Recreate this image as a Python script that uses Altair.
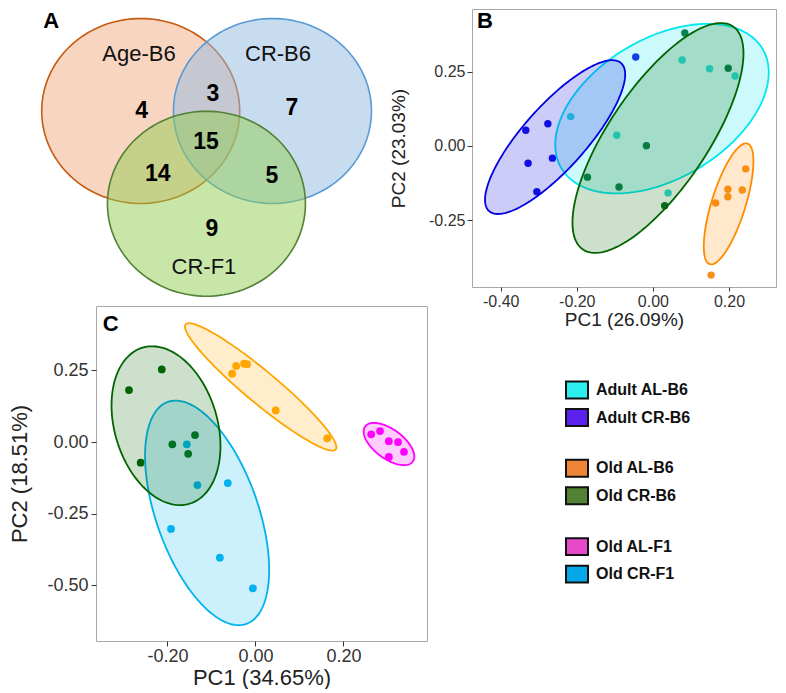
import altair as alt
import numpy as np
import pandas as pd

FONT = "Liberation Sans"
LBL = "replace(format(datum.value, '.2f'), '\u2212', '-')"

# ---------------- Panel A : Venn diagram ----------------
venn_sets = ["Age-B6", "CR-B6", "CR-F1"]
venn_cx = [0.0, 1.331, 0.664]
venn_cy = [0.0, 0.0, -0.937]
venn_rx = [1.0, 1.0, 1.0]
venn_ry = [0.934, 0.934, 0.934]
venn_fill = ["#F1AB81", "#91B9E1", "#91CD51"]
venn_stroke = ["#C55A11", "#5B9BD5", "#538135"]
venn_label_x = [-0.017, 1.387, 0.639]
venn_label_y = [0.576, 0.576, -1.576]
venn_counts = ["4", "3", "7", "15", "14", "5", "9"]
venn_count_x = [0.01, 0.730, 1.528, 0.660, 0.172, 1.326, 0.720]
venn_count_y = [0.0, 0.175, 0.033, -0.313, -0.636, -0.657, -1.192]

# ---------------- Panel B : PCA (B6) ----------------
b_groups = ["Adult AL-B6", "Adult CR-B6", "Old AL-B6", "Old CR-B6"]
b_pc1 = [
    [-0.216, -0.095, 0.077, 0.149, 0.216, 0.040],
    [-0.334, -0.276, -0.328, -0.264, -0.305, -0.045],
    [0.244, 0.197, 0.197, 0.235, 0.165, 0.153],
    [0.084, 0.198, -0.017, -0.172, -0.089, 0.031],
]
b_pc2 = [
    [0.099, 0.036, 0.290, 0.260, 0.236, -0.158],
    [0.053, 0.075, -0.058, -0.041, -0.154, 0.300],
    [-0.077, -0.146, -0.171, -0.148, -0.192, -0.435],
    [0.381, 0.262, 0.001, -0.105, -0.138, -0.201],
]
b_point_colors = ["#33DCD4", "#1414E6", "#F7901A", "#0B6B2B"]
b_line_colors = ["#00E8EE", "#0000E0", "#FF8C00", "#006400"]
# confidence ellipses: centre, major half-axis vector, minor half-axis vector
b_ell_cx = [0.024, -0.257, 0.199, 0.0134]
b_ell_cy = [0.126, 0.030, -0.195, 0.027]
b_ell_ux = [0.2644, 0.1735, 0.0494, 0.1971]
b_ell_uy = [0.2011, 0.2493, 0.2032, 0.376]
b_ell_vx = [0.0938, 0.0618, 0.0426, 0.108]
b_ell_vy = [-0.2028, -0.0707, -0.0168, -0.093]

# ---------------- Panel C : PCA (old B6 / F1) ----------------
c_groups = ["Old AL-B6", "Old CR-B6", "Old AL-F1", "Old CR-F1"]
c_pc1 = [
    [-0.053, -0.044, -0.026, -0.019, 0.046, 0.163],
    [-0.2875, -0.213, -0.261, -0.189, -0.1375, -0.153],
    [0.263, 0.283, 0.303, 0.324, 0.3375, 0.303],
    [-0.156, -0.132, -0.063, -0.192, -0.081, -0.006],
]
c_pc2 = [
    [0.238, 0.265, 0.273, 0.271, 0.110, 0.013],
    [0.181, 0.253, -0.072, -0.008, 0.024, -0.041],
    [0.027, 0.038, 0.003, 0.000, -0.034, -0.052],
    [-0.008, -0.150, -0.143, -0.303, -0.403, -0.510],
]
c_colors = ["#FFA500", "#006400", "#FF00FF", "#00B2EE"]
c_ell_cx = [0.0118, -0.2034, 0.3034, -0.110]
c_ell_cy = [0.192, 0.0568, -0.007, -0.247]
c_ell_ux = [0.1705, 0.0536, 0.0541, 0.0891]
c_ell_uy = [-0.2178, -0.2718, -0.0613, -0.3868]
c_ell_vx = [0.0232, 0.1116, 0.0198, 0.1093]
c_ell_vy = [0.0429, 0.0519, 0.0408, 0.0592]
# ggplot order of drawing ellipses
c_draw_order = [3, 1, 0, 2]

# ---------------- Legend ----------------
legend_labels = ["Adult AL-B6", "Adult CR-B6", "Old AL-B6", "Old CR-B6", "Old AL-F1", "Old CR-F1"]
legend_colors = ["#2CF0EE", "#5A20F0", "#EF8536", "#548235", "#E64AC8", "#04A8E8"]
legend_block = [0, 0, 1, 1, 2, 2]
legend_row = [0, 1, 0, 1, 0, 1]


def ellipse_frame(cx, cy, ux, uy, vx, vy, n=144):
    t = np.linspace(0.0, 2.0 * np.pi, n + 1)
    return pd.DataFrame({
        "i": np.arange(n + 1),
        "x": cx + ux * np.cos(t) + vx * np.sin(t),
        "y": cy + uy * np.cos(t) + vy * np.sin(t),
    })


def axis(values, title, lsize, tsize, tpad, lpad, ticksize):
    return alt.Axis(values=values, labelExpr=LBL, title=title, grid=False, domain=False,
                    ticks=True, tickSize=ticksize, tickColor="#333333", tickWidth=1,
                    labelFont=FONT, labelFontSize=lsize, labelColor="#333333",
                    labelPadding=lpad, titleFont=FONT, titleFontSize=tsize,
                    titleFontWeight="normal", titleColor="#222222", titlePadding=tpad)


# ======== Panel A ========
A_W, A_H = 331, 278
axA = alt.X("x:Q", scale=alt.Scale(domain=[-0.4515, 2.892], nice=False, zero=False), axis=None)
ayA = alt.Y("y:Q", scale=alt.Scale(domain=[-1.778, 1.030], nice=False, zero=False), axis=None)
a_layers = []
for k in range(3):
    df = ellipse_frame(venn_cx[k], venn_cy[k], venn_rx[k], 0.0, 0.0, venn_ry[k])
    a_layers.append(
        alt.Chart(df).mark_line(stroke=venn_stroke[k], strokeWidth=1.6, fill=venn_fill[k],
                                fillOpacity=0.5)
        .encode(x=axA, y=ayA, order="i:Q")
    )
a_lab = pd.DataFrame({"x": venn_label_x, "y": venn_label_y, "t": venn_sets})
a_layers.append(
    alt.Chart(a_lab).mark_text(font=FONT, fontSize=22, color="#111111", align="center",
                               baseline="middle")
    .encode(x=axA, y=ayA, text="t:N")
)
a_cnt = pd.DataFrame({"x": venn_count_x, "y": venn_count_y, "t": venn_counts})
a_layers.append(
    alt.Chart(a_cnt).mark_text(font=FONT, fontSize=23, fontWeight="bold", color="#000000",
                               align="center", baseline="middle")
    .encode(x=axA, y=ayA, text="t:N")
)
a_layers.append(
    alt.Chart(pd.DataFrame({"t": ["A"]})).mark_text(font=FONT, fontSize=22, fontWeight="bold",
                                                    color="#000000", align="center",
                                                    baseline="middle")
    .encode(x=alt.value(-44.8), y=alt.value(11.5), text="t:N")
)
panelA = alt.layer(*a_layers).properties(width=A_W, height=A_H,
                                         view=alt.ViewBackground(stroke="transparent"))

# ======== Panel B ========
B_W, B_H = 304, 278
xB = alt.X("x:Q", scale=alt.Scale(domain=[-0.4754, 0.3236], nice=False, zero=False),
           axis=axis([-0.4, -0.2, 0.0, 0.2], "PC1 (26.09%)", 16, 19, 1, 2, 4))
yB = alt.Y("y:Q", scale=alt.Scale(domain=[-0.4751, 0.4616], nice=False, zero=False),
           axis=axis([-0.25, 0.0, 0.25], "PC2 (23.03%)", 16, 19, 20, 2, 5))
b_layers = []
for k in range(4):
    df = pd.DataFrame({"x": b_pc1[k], "y": b_pc2[k]})
    b_layers.append(alt.Chart(df).mark_circle(size=55, color=b_point_colors[k], opacity=1)
                    .encode(x=xB, y=yB))
for k in range(4):
    df = ellipse_frame(b_ell_cx[k], b_ell_cy[k], b_ell_ux[k], b_ell_uy[k], b_ell_vx[k], b_ell_vy[k])
    b_layers.append(
        alt.Chart(df).mark_line(stroke=b_line_colors[k], strokeWidth=1.8, fill=b_line_colors[k],
                                fillOpacity=0.2)
        .encode(x=xB, y=yB, order="i:Q")
    )
b_layers.append(
    alt.Chart(pd.DataFrame({"t": ["B"]})).mark_text(font=FONT, fontSize=22, fontWeight="bold",
                                                    color="#000000", align="center",
                                                    baseline="middle")
    .encode(x=alt.value(13), y=alt.value(11.5), text="t:N")
)
panelB = alt.layer(*b_layers).properties(width=B_W, height=B_H,
                                         view=alt.ViewBackground(stroke="#A8A8A8", strokeWidth=1))

# ======== Panel C ========
C_W, C_H = 331, 335
xC = alt.X("x:Q", scale=alt.Scale(domain=[-0.3625, 0.3898], nice=False, zero=False),
           axis=axis([-0.2, 0.0, 0.2], "PC1 (34.65%)", 18, 22, 2, 1, 5))
yC = alt.Y("y:Q", scale=alt.Scale(domain=[-0.6934, 0.4739], nice=False, zero=False),
           axis=axis([-0.5, -0.25, 0.0, 0.25], "PC2 (18.51%)", 18, 22, 15, 3, 5))
c_layers = []
for k in range(4):
    df = pd.DataFrame({"x": c_pc1[k], "y": c_pc2[k]})
    c_layers.append(alt.Chart(df).mark_circle(size=60, color=c_colors[k], opacity=1)
                    .encode(x=xC, y=yC))
for k in c_draw_order:
    df = ellipse_frame(c_ell_cx[k], c_ell_cy[k], c_ell_ux[k], c_ell_uy[k], c_ell_vx[k], c_ell_vy[k])
    c_layers.append(
        alt.Chart(df).mark_line(stroke=c_colors[k], strokeWidth=1.8, fill=c_colors[k],
                                fillOpacity=0.2)
        .encode(x=xC, y=yC, order="i:Q")
    )
c_layers.append(
    alt.Chart(pd.DataFrame({"t": ["C"]})).mark_text(font=FONT, fontSize=22, fontWeight="bold",
                                                    color="#000000", align="center",
                                                    baseline="middle")
    .encode(x=alt.value(14.7), y=alt.value(17.7), text="t:N")
)
panelC = alt.layer(*c_layers).properties(width=C_W, height=C_H,
                                         view=alt.ViewBackground(stroke="#A8A8A8", strokeWidth=1))

# ======== Legend ========
L_W, L_H = 304, 335
leg = pd.DataFrame({"label": legend_labels, "block": legend_block, "row": legend_row})
yL = alt.Y("pos:Q", scale=alt.Scale(domain=[0, L_H], reverse=True, nice=False, zero=False), axis=None)
leg_base = alt.Chart(leg).transform_calculate(pos="84 + datum.block * 78.3 + datum.row * 27.5")
swatch = leg_base.mark_point(shape="M -1 -0.77 L 1 -0.77 L 1 0.77 L -1 0.77 Z", size=484,
                             filled=True, stroke="#111111", strokeWidth=2, opacity=1).encode(
    y=yL, x=alt.value(105),
    fill=alt.Fill("label:N", scale=alt.Scale(domain=legend_labels, range=legend_colors), legend=None),
)
leg_text = leg_base.mark_text(font=FONT, fontSize=16, fontWeight="bold", color="#111111",
                              align="left", baseline="middle").encode(
    y=yL, x=alt.value(124), text="label:N")
panelL = alt.layer(swatch, leg_text).properties(width=L_W, height=L_H,
                                               view=alt.ViewBackground(stroke="transparent"))

chart = alt.concat(panelA, panelB, panelC, panelL, columns=2,
                   spacing={"row": 19, "column": 45}, bounds="flush", align="each") \
    .resolve_scale(color="independent", fill="independent", stroke="independent") \
    .properties(padding=0)

chart.save("out.html", embed_options={"renderer": "svg", "actions": False})
